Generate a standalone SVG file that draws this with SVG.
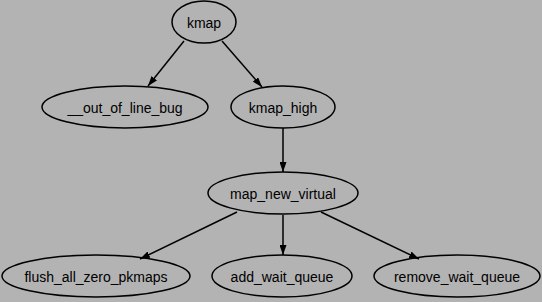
<svg xmlns="http://www.w3.org/2000/svg" width="542" height="302" viewBox="0 0 542 302">
<defs>
<style>
.n ellipse{fill:none;stroke:#000;stroke-width:1.5}
.n text{font-family:"Liberation Sans",Arial,sans-serif;font-size:14px;fill:#000;text-anchor:middle}
.e line{stroke:#000;stroke-width:1.5;marker-end:url(#arr)}
</style>
<marker id="arr" viewBox="0 0 10 7" refX="10" refY="3.5" markerWidth="10" markerHeight="7" markerUnits="userSpaceOnUse" orient="auto">
<path d="M0,0 L10,3.5 L0,7 Z" fill="#000"/>
</marker>
</defs>
<rect width="542" height="302" fill="#b3b3b3"/>
<g id="edges" class="e">
<line x1="184" y1="41" x2="148" y2="86"/>
<line x1="222" y1="41" x2="262" y2="87"/>
<line x1="283" y1="128" x2="283" y2="172"/>
<line x1="237" y1="212" x2="140" y2="259"/>
<line x1="283" y1="215" x2="283" y2="255"/>
<line x1="321" y1="212" x2="419" y2="259"/>
</g>
<g id="kmap" class="n"><ellipse cx="204" cy="22" rx="32" ry="21"/><text x="204" y="28">kmap</text></g>
<g id="out_of_line_bug" class="n"><ellipse cx="125" cy="107" rx="83" ry="21"/><text x="125" y="113">__out_of_line_bug</text></g>
<g id="kmap_high" class="n"><ellipse cx="283" cy="107" rx="52" ry="21"/><text x="283" y="113">kmap_high</text></g>
<g id="map_new_virtual" class="n"><ellipse cx="283" cy="193" rx="75" ry="21"/><text x="283" y="199">map_new_virtual</text></g>
<g id="flush_all_zero_pkmaps" class="n"><ellipse cx="96" cy="276" rx="94" ry="21"/><text x="96" y="282">flush_all_zero_pkmaps</text></g>
<g id="add_wait_queue" class="n"><ellipse cx="282" cy="276" rx="70" ry="21"/><text x="282" y="282">add_wait_queue</text></g>
<g id="remove_wait_queue" class="n"><ellipse cx="457" cy="276" rx="83" ry="21"/><text x="457" y="282">remove_wait_queue</text></g>
</svg>
